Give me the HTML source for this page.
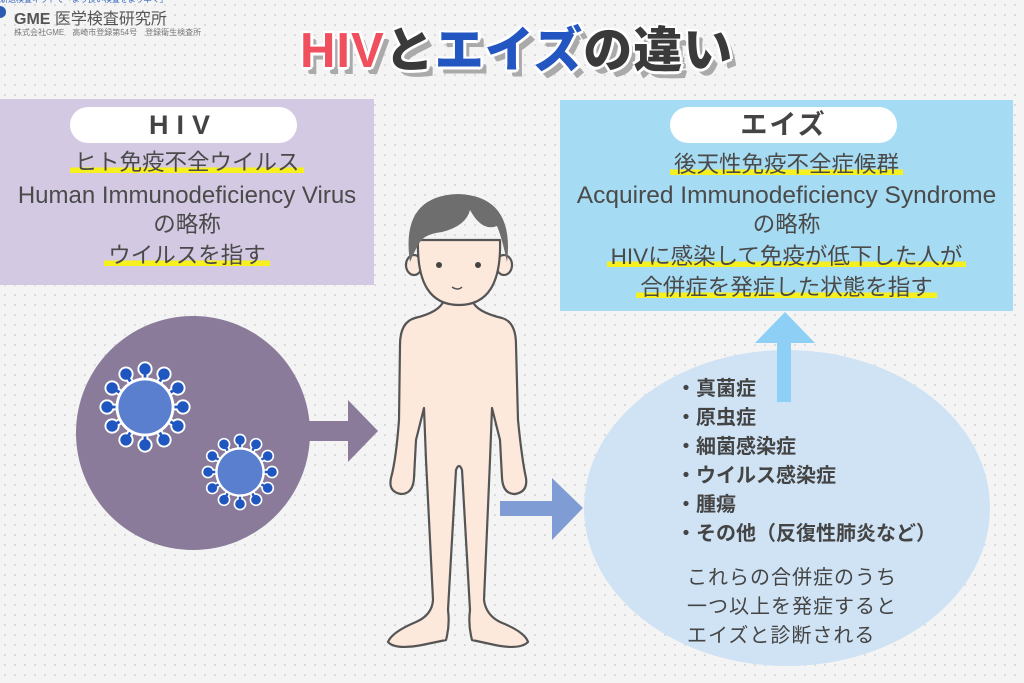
<!DOCTYPE html>
<html><head><meta charset="utf-8"><style>
*{margin:0;padding:0}
body{width:1024px;height:683px;overflow:hidden;position:relative;background-color:#f4f4f4;background-image:radial-gradient(#d9d9d9 1px,transparent 1.3px);background-size:10px 10px;font-family:"Liberation Sans","Noto Sans CJK JP",sans-serif;color:#4a4a4a}
.abs{position:absolute}
.box{position:absolute}
.pill{position:absolute;background:#fff;border-radius:18px;text-align:center;font-weight:bold;color:#444}
.line{position:absolute;left:0;right:0;text-align:center;font-size:22.5px;line-height:28px;white-space:nowrap}
.en{font-size:24px}
.hl{background:linear-gradient(transparent 70%,#f6f01e 70%,#f6f01e 92%,transparent 92%);padding:0 4px}
.title{position:absolute;left:300px;top:11px;font-size:49px;font-weight:900;white-space:nowrap;letter-spacing:1px;text-shadow:-2px -2px 0 #fff,2px -2px 0 #fff,-2px 2px 0 #fff,2px 2px 0 #fff,0 3px 0 #fff,3px 0 0 #fff,5px 6px 0 #aaa,6px 7px 0 #aaa}
</style></head><body>
<div class="abs" style="left:0;top:-6px;font-size:8px;color:#3366bb">新送検査キットで「より良い検査をより早く」</div>
<div class="abs" style="left:-6px;top:6px;width:12px;height:12px;border-radius:50%;background:#2a5bb0"></div>
<div class="abs" style="left:14px;top:5px;font-size:16px;font-weight:bold;color:#555">GME <span style="font-weight:normal">医学検査研究所</span></div>
<div class="abs" style="left:14px;top:27px;font-size:8px;color:#777">株式会社GME　高崎市登録第54号　登録衛生検査所</div>

<div class="title"><span style="color:#f04f5e">HIV</span><span style="color:#3a3a3a">と</span><span style="color:#2356c0">エイズ</span><span style="color:#3a3a3a">の違い</span></div>

<div class="box" style="left:0;top:99px;width:374px;height:186px;background:#d4c9e3">
 <div class="pill" style="left:70px;top:8px;width:227px;height:36px;font-size:27px;line-height:36px;letter-spacing:8px">HIV</div>
 <div class="line" style="top:50px"><span class="hl">ヒト免疫不全ウイルス</span></div>
 <div class="line en" style="top:83px">Human Immunodeficiency Virus</div>
 <div class="line" style="top:112px">の略称</div>
 <div class="line" style="top:143px"><span class="hl">ウイルスを指す</span></div>
</div>

<div class="box" style="left:560px;top:100px;width:453px;height:211px;background:#a6dcf3">
 <div class="pill" style="left:110px;top:7px;width:227px;height:36px;font-size:27px;line-height:36px;letter-spacing:2px">エイズ</div>
 <div class="line" style="top:51px"><span class="hl">後天性免疫不全症候群</span></div>
 <div class="line en" style="top:82px;font-size:24.5px">Acquired Immunodeficiency Syndrome</div>
 <div class="line" style="top:111px">の略称</div>
 <div class="line" style="top:143px"><span class="hl">HIVに感染して免疫が低下した人が</span></div>
 <div class="line" style="top:174px"><span class="hl">合併症を発症した状態を指す</span></div>
</div>

<svg class="abs" style="left:0;top:0" width="1024" height="683">
 <defs>
  <g id="vir">
   <g stroke="#fff" stroke-width="7" stroke-linecap="round">
    <line y2="-40" transform="rotate(0)"/><line y2="-40" transform="rotate(30)"/><line y2="-40" transform="rotate(60)"/><line y2="-40" transform="rotate(90)"/><line y2="-40" transform="rotate(120)"/><line y2="-40" transform="rotate(150)"/><line y2="-40" transform="rotate(180)"/><line y2="-40" transform="rotate(210)"/><line y2="-40" transform="rotate(240)"/><line y2="-40" transform="rotate(270)"/><line y2="-40" transform="rotate(300)"/><line y2="-40" transform="rotate(330)"/>
   </g>
   <g fill="#fff"><circle cy="-40" r="8" transform="rotate(0)"/><circle cy="-40" r="8" transform="rotate(30)"/><circle cy="-40" r="8" transform="rotate(60)"/><circle cy="-40" r="8" transform="rotate(90)"/><circle cy="-40" r="8" transform="rotate(120)"/><circle cy="-40" r="8" transform="rotate(150)"/><circle cy="-40" r="8" transform="rotate(180)"/><circle cy="-40" r="8" transform="rotate(210)"/><circle cy="-40" r="8" transform="rotate(240)"/><circle cy="-40" r="8" transform="rotate(270)"/><circle cy="-40" r="8" transform="rotate(300)"/><circle cy="-40" r="8" transform="rotate(330)"/></g>
   <g stroke="#1f56c0" stroke-width="3">
    <line y2="-40" transform="rotate(0)"/><line y2="-40" transform="rotate(30)"/><line y2="-40" transform="rotate(60)"/><line y2="-40" transform="rotate(90)"/><line y2="-40" transform="rotate(120)"/><line y2="-40" transform="rotate(150)"/><line y2="-40" transform="rotate(180)"/><line y2="-40" transform="rotate(210)"/><line y2="-40" transform="rotate(240)"/><line y2="-40" transform="rotate(270)"/><line y2="-40" transform="rotate(300)"/><line y2="-40" transform="rotate(330)"/>
   </g>
   <g fill="#1f56c0"><circle cy="-40" r="6" transform="rotate(0)"/><circle cy="-40" r="6" transform="rotate(30)"/><circle cy="-40" r="6" transform="rotate(60)"/><circle cy="-40" r="6" transform="rotate(90)"/><circle cy="-40" r="6" transform="rotate(120)"/><circle cy="-40" r="6" transform="rotate(150)"/><circle cy="-40" r="6" transform="rotate(180)"/><circle cy="-40" r="6" transform="rotate(210)"/><circle cy="-40" r="6" transform="rotate(240)"/><circle cy="-40" r="6" transform="rotate(270)"/><circle cy="-40" r="6" transform="rotate(300)"/><circle cy="-40" r="6" transform="rotate(330)"/></g>
   <circle r="31" fill="#fff"/><circle r="28" fill="#5a7fcf"/>
  </g>
 </defs>
 <circle cx="193" cy="433" r="117" fill="#8a7b9a"/>
 <use href="#vir" transform="translate(145,407) scale(0.95)"/>
 <use href="#vir" transform="translate(240,472) scale(0.8)"/>
 <polygon points="306,421 348,421 348,400 378,431 348,462 348,441 306,441" fill="#8a7b9a"/>
 <ellipse cx="787" cy="508" rx="203" ry="158" fill="#cfe3f4"/>
 <polygon points="777,402 777,343 755,343 785,312 815,343 791,343 791,402" fill="#8ecff5"/>
 <polygon points="500,501 552,501 552,478 583,508 552,540 552,516 500,516" fill="#7f9dd4"/>
 <g stroke="#555" stroke-width="2.2" fill="#fde8dc" stroke-linejoin="round" stroke-linecap="round">
  <path d="M415,318 Q440,312 444,300 L472,300 Q476,312 502,318 Q516,322 516,345 L518,420 Q522,460 526,478 Q528,492 515,494 Q503,494 502,478 L500,440 L492,408 L490,460 L484,600 Q486,615 500,622 Q525,632 528,642 Q520,650 495,645 L472,640 Q468,625 470,610 L462,470 Q459,462 456,470 L448,610 Q450,625 446,640 L422,645 Q395,650 388,642 Q392,632 416,622 Q432,615 433,600 L426,460 L424,408 L416,440 L414,478 Q413,494 401,494 Q388,492 391,478 Q396,460 399,420 L400,345 Q400,322 415,318 Z"/>
  <ellipse cx="414" cy="265" rx="8" ry="10"/><ellipse cx="504" cy="265" rx="8" ry="10"/>
  <path d="M418,240 Q416,305 459,305 Q502,305 500,240 Z"/>
 </g>
 <path d="M410,262 Q400,196 458,194 Q515,196 507,262 Q502,238 497,226 Q482,232 470,210 Q466,226 442,232 Q425,234 420,242 Q415,250 410,262 Z" fill="#6e6e6e"/>
 <circle cx="439" cy="265" r="3" fill="#444"/><circle cx="478" cy="265" r="3" fill="#444"/>
 <path d="M452,287 Q458,291 462,287" stroke="#555" stroke-width="1.5" fill="none"/>
</svg>

<div class="abs" style="left:676px;top:375px;font-size:20px;line-height:29px;font-weight:bold;color:#444;white-space:nowrap">
・真菌症<br>・原虫症<br>・細菌感染症<br>・ウイルス感染症<br>・腫瘍<br>・その他（反復性肺炎など）
</div>
<div class="abs" style="left:687px;top:564px;font-size:20px;line-height:29px;color:#444;white-space:nowrap;letter-spacing:1px">
これらの合併症のうち<br>一つ以上を発症すると<br>エイズと診断される
</div>
</body></html>
